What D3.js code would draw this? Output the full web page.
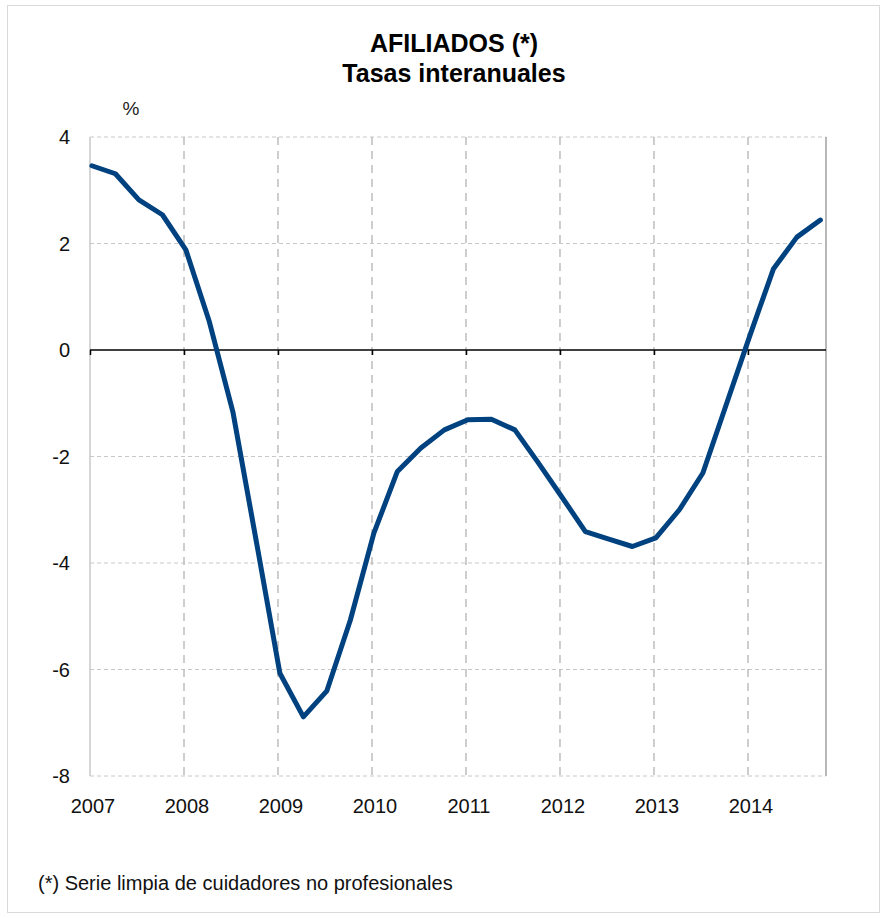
<!DOCTYPE html>
<html>
<head>
<meta charset="utf-8">
<script src="https://cdn.jsdelivr.net/npm/d3@7/dist/d3.min.js"></script>
<style>
  html, body { margin: 0; padding: 0; background: #fff; }
  svg { display: block; font-family: "Liberation Sans", Arial, Helvetica, sans-serif; }
</style>
</head>
<body>
<svg id="chart" width="887" height="918"></svg>
<script>
// Afiliados: tasas interanuales trimestrales (%)
const years = [2007, 2008, 2009, 2010, 2011, 2012, 2013, 2014];
const quarters = [0, 1, 2, 3];
const yTicks = [4, 2, 0, -2, -4, -6, -8];
const rates = [
  3.46, 3.31, 2.82, 2.54,      // 2007
  1.88, 0.53, -1.16, -3.60,    // 2008
  -6.07, -6.89, -6.40, -5.07,  // 2009
  -3.44, -2.28, -1.84, -1.50,  // 2010
  -1.31, -1.30, -1.50, -2.12,  // 2011
  -2.76, -3.41, -3.55, -3.69,  // 2012
  -3.53, -3.00, -2.31, -1.02,  // 2013
  0.27, 1.52, 2.12, 2.44       // 2014
];
const titleLines = ["AFILIADOS (*)", "Tasas interanuales"];
const unitLabel = "%";
const footnote = "(*) Serie limpia de cuidadores no profesionales";

// each observation sits just after the start of its quarter
const periods = years.flatMap(y => quarters.map(q => y + q / 4 + 0.02));
const series = periods.map((t, i) => ({ t, v: rates[i] }));

const svg = d3.select("#chart");
const plot = { left: 90, right: 826, top: 137, bottom: 776 };

const x = d3.scaleLinear().domain([2007, 2014.83]).range([plot.left, plot.right]);
const y = d3.scaleLinear().domain([-8, 4]).range([plot.bottom, plot.top]);

// outer frame
svg.append("rect")
  .attr("x", 7.5).attr("y", 5.5).attr("width", 872).attr("height", 907)
  .attr("fill", "none").attr("stroke", "#d9d9d9").attr("stroke-width", 1);

// titles
svg.selectAll("text.title").data(titleLines).join("text")
  .attr("class", "title")
  .attr("x", 454).attr("y", (d, i) => 52 + i * 30)
  .attr("text-anchor", "middle")
  .attr("font-size", 25).attr("font-weight", "bold").attr("fill", "#000")
  .text(d => d);

svg.append("text")
  .attr("x", 131).attr("y", 115)
  .attr("text-anchor", "middle").attr("font-size", 19).attr("fill", "#222")
  .text(unitLabel);

// horizontal gridlines
svg.append("g").selectAll("line").data(yTicks.filter(d => d !== 0)).join("line")
  .attr("x1", plot.left).attr("x2", plot.right)
  .attr("y1", d => y(d)).attr("y2", d => y(d))
  .attr("stroke", "#c8c8c8").attr("stroke-width", 1).attr("stroke-dasharray", "4,3");

// vertical year gridlines
svg.append("g").selectAll("line").data(years.slice(1)).join("line")
  .attr("x1", d => x(d)).attr("x2", d => x(d))
  .attr("y1", plot.top).attr("y2", plot.bottom)
  .attr("stroke", "#bdbdbd").attr("stroke-width", 1.5).attr("stroke-dasharray", "8,6");

// left and right frame lines of the plot
svg.append("line")
  .attr("x1", plot.left).attr("x2", plot.left).attr("y1", plot.top).attr("y2", plot.bottom)
  .attr("stroke", "#c8c8c8").attr("stroke-width", 1.5);
svg.append("line")
  .attr("x1", plot.right).attr("x2", plot.right).attr("y1", plot.top).attr("y2", plot.bottom)
  .attr("stroke", "#a0a0a0").attr("stroke-width", 1.5);

// y tick labels
svg.append("g").selectAll("text").data(yTicks).join("text")
  .attr("x", 70).attr("y", d => y(d) + 7)
  .attr("text-anchor", "end").attr("font-size", 20).attr("fill", "#111")
  .text(d => d);

// zero axis with year ticks
const xAxis = d3.axisBottom(x).tickValues(years).tickSize(5).tickFormat("");
const zeroAxis = svg.append("g").attr("transform", `translate(0,${y(0)})`).call(xAxis);
zeroAxis.select(".domain").attr("stroke", "#000").attr("stroke-width", 1.5)
  .attr("d", `M${plot.left},0H${plot.right}`);
zeroAxis.selectAll(".tick line").attr("stroke", "#000").attr("stroke-width", 1.5);

// year labels below the plot
svg.append("g").selectAll("text").data(years).join("text")
  .attr("x", d => x(d) + 3).attr("y", plot.bottom + 37)
  .attr("text-anchor", "middle").attr("font-size", 20).attr("fill", "#111")
  .text(d => d);

// series line
const line = d3.line().x(d => x(d.t)).y(d => y(d.v));
svg.append("path").datum(series)
  .attr("d", line)
  .attr("fill", "none").attr("stroke", "#00427f").attr("stroke-width", 5)
  .attr("stroke-linejoin", "round").attr("stroke-linecap", "round");

// footnote
svg.append("text")
  .attr("x", 38).attr("y", 890)
  .attr("font-size", 20).attr("fill", "#111")
  .text(footnote);
</script>
</body>
</html>
